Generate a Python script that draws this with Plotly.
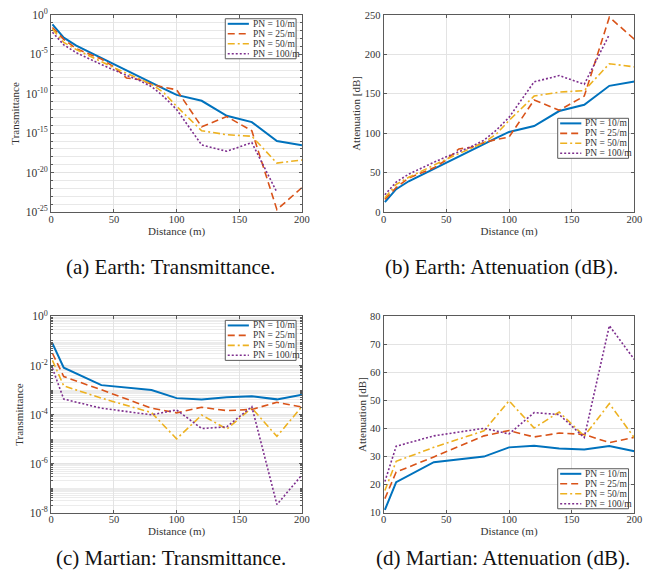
import plotly.graph_objects as go

W, H = 668, 587

# ---------------- data ----------------
series_labels = ["PN = 10/m", "PN = 25/m", "PN = 50/m", "PN = 100/m"]

distance_earth = [1, 10, 20, 30, 40, 50, 60, 70, 80, 90, 100, 120, 140, 160, 180, 200]
# Earth attenuation [dB]
earth_att_pn10 = [12.5, 29, 39, 47, 55, 63, 71, 79, 87, 94, 101.5, 109, 128, 136, 160, 165.5]
earth_att_pn25 = [16, 31, 43, 49, 56, 66, 80, 82, 88, 92, 95, 142, 129, 147, 247, 219]
earth_att_pn50 = [18, 35, 44, 52, 59, 67, 74, 81, 88, 99, 116, 147, 152, 154, 188, 184]
earth_att_pn100 = [22, 38, 48, 56, 63, 70, 76, 83, 91, 104, 120, 165, 173, 162, 225, None]
# Earth transmittance, as log10 exponent
earth_logT_pn10 = [-1.2, -2.9, -3.9, -4.7, -5.5, -6.3, -7.1, -7.9, -8.7, -9.4, -10.15, -10.9, -12.8, -13.6, -16.0, -16.55]
earth_logT_pn25 = [-1.6, -3.1, -4.3, -4.9, -5.6, -6.6, -8.0, -8.2, -8.8, -9.2, -9.5, -14.2, -12.9, -14.7, -24.7, -21.9]
earth_logT_pn50 = [-1.8, -3.5, -4.4, -5.2, -5.9, -6.7, -7.4, -8.1, -8.8, -9.9, -11.6, -14.7, -15.2, -15.4, -18.8, -18.4]
earth_logT_pn100 = [-2.2, -3.8, -4.8, -5.6, -6.3, -7.0, -7.6, -8.3, -9.1, -10.4, -12.0, -16.5, -17.3, -16.2, -22.5, None]

distance_mars = [1, 10, 40, 80, 100, 120, 140, 160, 180, 200]
mars_att_pn10 = [11.0, 20.9, 28.0, 30.0, 33.3, 33.9, 32.9, 32.5, 33.8, 31.9]
mars_att_pn25 = [15.0, 24.5, 29.9, 37.4, 39.3, 37.0, 38.4, 37.9, 35.0, 36.9]
mars_att_pn50 = [17.9, 28.3, 33.3, 39.2, 49.9, 40.2, 45.9, 37.3, 48.9, 36.7]
mars_att_pn100 = [21.1, 33.7, 37.4, 40.1, 38.1, 45.7, 45.0, 36.8, 76.7, 64.6]
mars_logT_pn10 = [-1.10, -2.09, -2.80, -3.00, -3.33, -3.39, -3.29, -3.25, -3.38, -3.19]
mars_logT_pn25 = [-1.50, -2.45, -2.99, -3.74, -3.93, -3.70, -3.84, -3.79, -3.50, -3.69]
mars_logT_pn50 = [-1.79, -2.83, -3.33, -3.92, -4.99, -4.02, -4.59, -3.73, -4.89, -3.67]
mars_logT_pn100 = [-2.11, -3.37, -3.74, -4.01, -3.81, -4.57, -4.50, -3.68, -7.67, -6.46]

captions = ["(a) Earth: Transmittance.", "(b) Earth: Attenuation (dB).",
            "(c) Martian: Transmittance.", "(d) Martian: Attenuation (dB)."]

# ---------------- styles ----------------
colors = ["#0072BD", "#D95319", "#EDB120", "#7E2F8E"]
dashes = ["solid", "7px,4px", "7px,3px,2px,3px", "2px,2px"]
widths = [2.0, 1.6, 1.6, 1.6]
FONT = "'Liberation Serif', 'Times New Roman', Times, serif"
AXC = "#333333"


def to_T(exps):
    return [10 ** e if e is not None else None for e in exps]


fig = go.Figure()

panels = [
    ("x", "y", distance_earth, [to_T(v) for v in (earth_logT_pn10, earth_logT_pn25, earth_logT_pn50, earth_logT_pn100)]),
    ("x2", "y2", distance_earth, [earth_att_pn10, earth_att_pn25, earth_att_pn50, earth_att_pn100]),
    ("x3", "y3", distance_mars, [to_T(v) for v in (mars_logT_pn10, mars_logT_pn25, mars_logT_pn50, mars_logT_pn100)]),
    ("x4", "y4", distance_mars, [mars_att_pn10, mars_att_pn25, mars_att_pn50, mars_att_pn100]),
]

for xa, ya, xs, ys_list in panels:
    for i, ys in enumerate(ys_list):
        fig.add_trace(go.Scatter(
            x=xs, y=ys, xaxis=xa, yaxis=ya, mode="lines", name=series_labels[i],
            showlegend=False,
            line=dict(color=colors[i], width=widths[i], dash=dashes[i]),
        ))


def px_x(p):
    return p / W


def px_y(p):
    return 1 - p / H


common_axis = dict(
    showline=True, linecolor="#5a5a5a", linewidth=1, mirror="ticks",
    ticks="inside", ticklen=3, tickcolor="#5a5a5a",
    showgrid=True, gridcolor="#e3e3e3", gridwidth=1, zeroline=False,
    tickfont=dict(family=FONT, size=10.5, color=AXC),
    title_font=dict(family=FONT, size=11, color=AXC),
)

x_left = [49, 387]
x_right = [304, 642]
y_top = [7, 316]
y_bot = [209, 517]


def xaxis_def(col, row, anchor):
    return dict(common_axis, domain=[px_x(x_left[col]), px_x(x_right[col])], anchor=anchor,
                range=[0, 200], tickvals=[0, 50, 100, 150, 200], ticklabelstandoff=-3,
                title=dict(text="Distance (m)", standoff=1))


def log_minor(lo, hi, majors):
    vals = []
    for k in range(lo, hi):
        for m in range(1, 10):
            v = m * 10 ** k
            if not (m == 1 and k in majors):
                vals.append(v)
    return vals


layout = dict(
    width=W, height=H, margin=dict(l=0, r=0, t=0, b=0),
    paper_bgcolor="white", plot_bgcolor="white", showlegend=False,
    font=dict(family=FONT, color=AXC),
)

layout["xaxis"] = xaxis_def(0, 0, "y")
layout["xaxis2"] = xaxis_def(1, 0, "y2")
layout["xaxis3"] = xaxis_def(0, 1, "y3")
layout["xaxis4"] = xaxis_def(1, 1, "y4")

log_tickfont = dict(family=FONT, size=11.5, color=AXC)

majA = list(range(-25, 1, 5))
layout["yaxis"] = dict(
    common_axis, type="log", anchor="x", domain=[px_y(y_bot[0]), px_y(y_top[0])],
    range=[-25, 0], tickvals=[10 ** k for k in majA],
    ticktext=["10<sup>%d</sup>" % k for k in majA], tickfont=log_tickfont,
    minor=dict(tickvals=[10 ** k for k in range(-25, 1) if k not in majA],
               showgrid=True, gridcolor="#e8e8e8", ticks="inside", ticklen=2, tickcolor="#5a5a5a"),
    title=dict(text="Transmittance", standoff=3),
)
layout["yaxis2"] = dict(
    common_axis, anchor="x2", domain=[px_y(y_bot[0]), px_y(y_top[0])],
    range=[0, 250], tickvals=[0, 50, 100, 150, 200, 250],
    title=dict(text="Attenuation [dB]", standoff=1),
)
majC = [0, -2, -4, -6, -8]
layout["yaxis3"] = dict(
    common_axis, type="log", anchor="x3", domain=[px_y(y_bot[1]), px_y(y_top[1])],
    range=[-8, 0], tickvals=[10 ** k for k in majC],
    ticktext=["10<sup>%d</sup>" % k for k in majC], tickfont=log_tickfont,
    minor=dict(tickvals=log_minor(-8, 0, majC), showgrid=True, gridcolor="#ececec",
               ticks="inside", ticklen=2, tickcolor="#5a5a5a"),
    title=dict(text="Transmittance", standoff=3),
)
layout["yaxis4"] = dict(
    common_axis, anchor="x4", domain=[px_y(y_bot[1]), px_y(y_top[1])],
    range=[10, 80], tickvals=[10, 20, 30, 40, 50, 60, 70, 80],
    title=dict(text="Attenuation [dB]", standoff=1),
)

fig.update_layout(**layout)

# ---------------- legend keys ----------------
shapes = []
annotations = []


def add_key(left, top):
    shapes.append(dict(type="rect", xref="paper", yref="paper",
                       x0=px_x(left), x1=px_x(left + 72), y0=px_y(top), y1=px_y(top + 41),
                       fillcolor="white", line=dict(color="#5a5a5a", width=1), layer="above"))
    for i, lab in enumerate(series_labels):
        yc = top + 5.2 + i * 10.2
        shapes.append(dict(type="line", xref="paper", yref="paper",
                           x0=px_x(left + 2.5), x1=px_x(left + 24), y0=px_y(yc), y1=px_y(yc),
                           line=dict(color=colors[i], width=widths[i], dash=dashes[i]), layer="above"))
        annotations.append(dict(xref="paper", yref="paper", x=px_x(left + 26), y=px_y(yc),
                                xanchor="left", yanchor="middle", showarrow=False, text=lab,
                                font=dict(family=FONT, size=9.5, color=AXC)))


add_key(226, 11)
add_key(564, 113)
add_key(226, 320)
add_key(564, 472)

cap_pos = [(62, 265), (386, 265), (52, 563), (377, 563)]
for (cx, cy), txt in zip(cap_pos, captions):
    annotations.append(dict(xref="paper", yref="paper", x=px_x(cx), y=px_y(cy),
                            xanchor="left", yanchor="middle", showarrow=False, text=txt,
                            font=dict(family=FONT, size=21, color="#111111")))

fig.update_layout(shapes=shapes, annotations=annotations)

fig.write_html("out.html")
